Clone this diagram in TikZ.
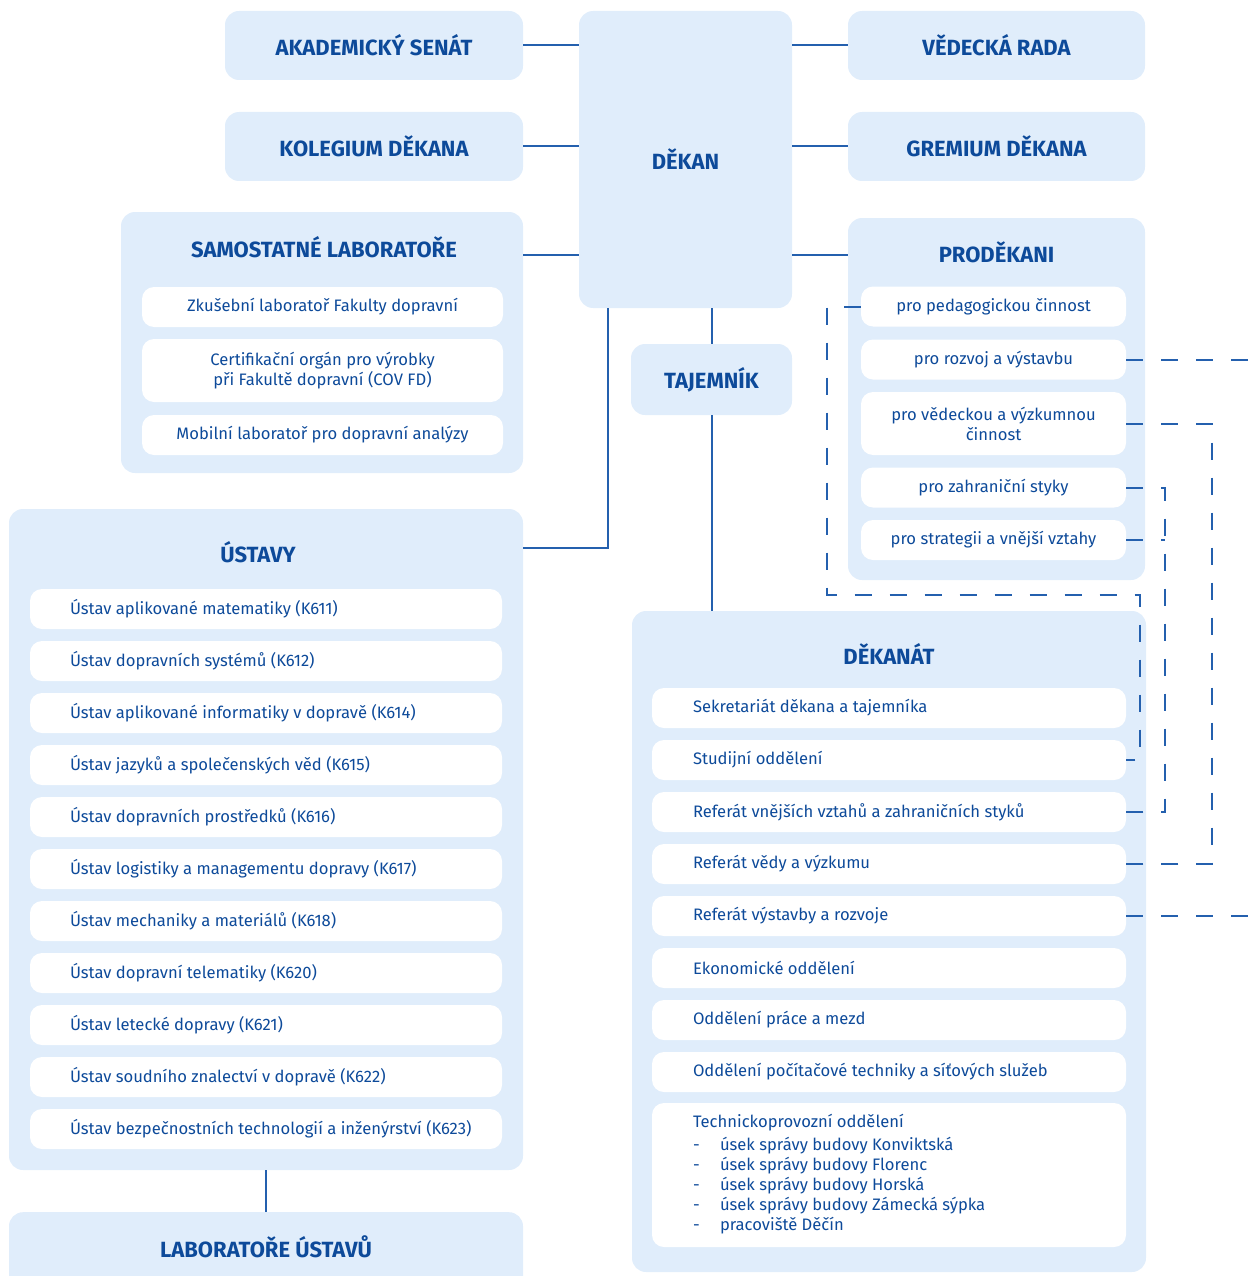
\documentclass[tikz,border=0pt]{standalone}
\usepackage{fontspec}
\setmainfont{Fira Sans}
\usetikzlibrary{positioning}
\definecolor{boxfill}{RGB}{224,237,251}
\definecolor{fdblue}{RGB}{13,74,154}
\definecolor{linkblue}{RGB}{36,96,174}

\begin{document}
\begin{tikzpicture}[x=1pt,y=-1pt,
    panel/.style={fill=boxfill,rounded corners=14pt,inner sep=0pt},
    item/.style={fill=white,rounded corners=12pt,inner sep=0pt},
    head/.style={font=\fontsize{22}{26}\selectfont\bfseries,text=fdblue},
    txt/.style={font=\fontsize{16.6}{20}\selectfont,text=fdblue,align=center,inner sep=0pt},
    link/.style={draw=linkblue,line width=2pt},
    dashlink/.style={draw=linkblue,line width=2pt,dash pattern=on 17pt off 18pt}]
  \useasboundingbox (0,0) rectangle (1255,1276);
  \clip (0,0) rectangle (1255,1276);

  % top row
  \node[panel,head,minimum width=298pt,minimum height=69pt] (senat) at (374,45.5) {AKADEMICKÝ SENÁT};
  \node[panel,head,minimum width=298pt,minimum height=69pt] (kolegium) at (374,146.5) {KOLEGIUM DĚKANA};
  \node[panel,head,minimum width=213pt,minimum height=297pt] (dekan) at (685.5,159.5) {DĚKAN};
  \node[panel,head,minimum width=297pt,minimum height=69pt] (rada) at (996.5,45.5) {VĚDECKÁ RADA};
  \node[panel,head,minimum width=297pt,minimum height=69pt] (gremium) at (996.5,146.5) {GREMIUM DĚKANA};
  \node[panel,head,minimum width=161pt,minimum height=71pt] (tajemnik) at (711.5,379.5) {TAJEMNÍK};

  % samostatne laboratore
  \node[panel,minimum width=402pt,minimum height=261pt] (samlab) at (322,342.5) {};
  \node[head] (samlabtitle) at (324,247) {SAMOSTATNÉ LABORATOŘE};
  \node[item,txt,minimum width=361pt,minimum height=40pt] (lab1) at (322.5,307) {Zkušební laboratoř Fakulty dopravní};
  \node[item,txt,minimum width=361pt,minimum height=63pt] (lab2) at (322.5,370.5) {Certifikační orgán pro výrobky\\při Fakultě dopravní (COV FD)};
  \node[item,txt,minimum width=361pt,minimum height=40pt] (lab3) at (322.5,435) {Mobilní laboratoř pro dopravní analýzy};

  % prodekani
  \node[panel,minimum width=297pt,minimum height=362pt] (prod) at (996.5,399) {};
  \node[head] (prodtitle) at (996.5,252) {PRODĚKANI};
  \node[item,txt,minimum width=265pt,minimum height=40pt] (p1) at (993.5,306.5) {pro pedagogickou činnost};
  \node[item,txt,minimum width=265pt,minimum height=40pt] (p2) at (993.5,359.5) {pro rozvoj a výstavbu};
  \node[item,txt,minimum width=265pt,minimum height=63pt] (p3) at (993.5,423.5) {pro vědeckou a výzkumnou\\činnost};
  \node[item,txt,minimum width=265pt,minimum height=40pt] (p4) at (993.5,487.5) {pro zahraniční styky};
  \node[item,txt,minimum width=265pt,minimum height=40pt] (p5) at (993.5,540) {pro strategii a vnější vztahy};

  % ustavy
  \node[panel,minimum width=514pt,minimum height=661pt] (ustavy) at (266,839.5) {};
  \node[head] (ustavytitle) at (258,552) {ÚSTAVY};
  \foreach \name [count=\i] in {Ústav aplikované matematiky (K611),
      Ústav dopravních systémů (K612),
      Ústav aplikované informatiky v dopravě (K614),
      Ústav jazyků a společenských věd (K615),
      Ústav dopravních prostředků (K616),
      Ústav logistiky a managementu dopravy (K617),
      Ústav mechaniky a materiálů (K618),
      Ústav dopravní telematiky (K620),
      Ústav letecké dopravy (K621),
      Ústav soudního znalectví v dopravě (K622),
      Ústav bezpečnostních technologií a inženýrství (K623)} {
    \node[item,minimum width=472pt,minimum height=40pt] (ust\i) at (266,557+52*\i) {};
    \node[txt,anchor=west] at ([xshift=40pt]ust\i.west) {\name};
  }
  \node[panel,head,minimum width=514pt,minimum height=100pt,anchor=north] (labust) at (266,1212) {};
  \node[head] (labusttitle) at (266,1247) {LABORATOŘE ÚSTAVŮ};

  % dekanat
  \node[panel,minimum width=514pt,minimum height=661pt] (dekanat) at (889,941.5) {};
  \node[head] (dekanattitle) at (889,654) {DĚKANÁT};
  \foreach \name [count=\i] in {Sekretariát děkana a tajemníka,
      Studijní oddělení,
      Referát vnějších vztahů a zahraničních styků,
      Referát vědy a výzkumu,
      Referát výstavby a rozvoje,
      Ekonomické oddělení,
      Oddělení práce a mezd,
      Oddělení počítačové techniky a síťových služeb} {
    \node[item,minimum width=474pt,minimum height=40pt] (dek\i) at (889,656+52*\i) {};
    \node[txt,anchor=west] at ([xshift=41pt]dek\i.west) {\name};
  }
  \node[item,minimum width=474pt,minimum height=144pt] (dek9) at (889,1175) {};
  \node[txt,align=left,anchor=north west] at ([xshift=41pt,yshift=-11pt]dek9.north west)
    {Technickoprovozní oddělení\\[3pt]
     \makebox[27pt][l]{-}úsek správy budovy Konviktská\\
     \makebox[27pt][l]{-}úsek správy budovy Florenc\\
     \makebox[27pt][l]{-}úsek správy budovy Horská\\
     \makebox[27pt][l]{-}úsek správy budovy Zámecká sýpka\\
     \makebox[27pt][l]{-}pracoviště Děčín};

  % solid links
  \draw[link] (senat.east) -- (senat.east -| dekan.west);
  \draw[link] (kolegium.east) -- (kolegium.east -| dekan.west);
  \draw[link] ([yshift=-43pt]samlab.north east) -- ([yshift=-43pt]samlab.north east -| dekan.west);
  \draw[link] (rada.west -| dekan.east) -- (rada.west);
  \draw[link] (gremium.west -| dekan.east) -- (gremium.west);
  \draw[link] ([yshift=-37pt]prod.north west -| dekan.east) -- ([yshift=-37pt]prod.north west);
  \draw[link] ([xshift=29pt]dekan.south west) |- ([yshift=-39pt]ustavy.north east);
  \draw[link] (tajemnik.north |- dekan.south) -- (tajemnik.north);
  \draw[link] (tajemnik.south) -- (tajemnik.south |- dekanat.north);
  \draw[link] (ustavy.south) -- (labust.north);

  % dashed links
  \coordinate (dl) at (827,595);
  \coordinate (dr) at (1140,595);
  \coordinate (zx) at (1165,0);
  \coordinate (vx) at (1212,0);
  \coordinate (rx) at (1260,0);
  \draw[dashlink] (p1.west) -| (dl) -- (dr) |- (dek2.east);
  \draw[dashlink] (p2.east) -- (p2.east -| rx);
  \draw[dashlink] (p3.east) -- (p3.east -| vx) -- (dek4.east -| vx) -- (dek4.east);
  \draw[dashlink] (p4.east) -- (p4.east -| zx) -- (dek3.east -| zx) -- (dek3.east);
  \draw[dashlink] (p5.east) -- (p5.east -| zx);
  \draw[dashlink] (dek5.east) -- (dek5.east -| rx);
\end{tikzpicture}
\end{document}
